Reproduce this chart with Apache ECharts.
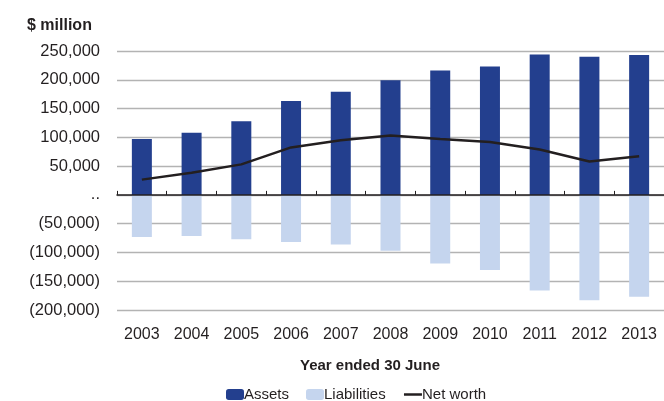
<!DOCTYPE html>
<html>
<head>
<meta charset="utf-8">
<script src="https://cdn.jsdelivr.net/npm/echarts@6/dist/echarts.min.js"></script>
<style>
  html, body { margin: 0; padding: 0; background: #fff; }
  #chart { width: 664px; height: 401px; }
</style>
</head>
<body>
<div id="chart"></div>
<script>
// 年份（横坐标）
const years = ['2003', '2004', '2005', '2006', '2007', '2008', '2009', '2010', '2011', '2012', '2013'];
// 资产
const assets = [97000, 108000, 128000, 163000, 179000, 199000, 216000, 223000, 244000, 240000, 243000];
// 负债
const liabilities = [-73000, -71500, -77000, -82000, -86000, -97000, -119000, -130500, -166000, -183000, -177000];
// 净值
const netWorth = [26500, 38500, 53000, 82500, 95000, 103000, 97000, 92000, 79000, 58000, 67000];

const textColor = '#231f20';
const fontFamily = '"Liberation Sans", Arial, sans-serif';

const chart = echarts.init(document.getElementById('chart'));

// 负数用括号，0 显示为 ..
function fmtY(v) {
  if (v === 0) return '..';
  const s = Math.abs(v).toLocaleString('en-US');
  return v < 0 ? '(' + s + ')' : s;
}

const option = {
  animation: false,
  textStyle: { fontFamily: fontFamily, color: textColor },
  title: [
    {
      text: '$ million',
      left: 22,
      top: 13,
      textStyle: { fontSize: 16, fontWeight: 'bold', color: textColor, fontFamily: fontFamily },
    },
    {
      text: 'Year ended 30 June',
      left: 365,
      top: 353,
      textAlign: 'center',
      textStyle: { fontSize: 15, fontWeight: 'bold', color: textColor, fontFamily: fontFamily },
    },
  ],
  legend: {
    left: 221,
    top: 382,
    itemWidth: 18,
    itemHeight: 11,
    itemGap: 17,
    textStyle: { fontSize: 15, color: textColor, fontFamily: fontFamily, padding: [0, 0, 0, -5] },
    data: [
      'Assets',
      'Liabilities',
      // 折线图例只显示线，不显示圆点
      { name: 'Net worth', itemStyle: { opacity: 0 }, lineStyle: { width: 2.5, color: textColor } },
    ],
  },
  grid: { // 四边距离
    left: 117,
    right: -6,
    top: 51,
    bottom: 91,
  },
  xAxis: [
    {
      type: 'category',
      data: years,
      position: 'bottom',
      axisLine: { onZero: true, lineStyle: { color: textColor, width: 1.5 } },
      axisTick: { show: true, inside: true, length: 4, lineStyle: { color: textColor } },
      axisLabel: { show: false },
      z: 10,
    },
    {
      type: 'category',
      data: years,
      position: 'bottom',
      axisLine: { show: false, onZero: false },
      axisTick: { show: false },
      axisLabel: { show: true, fontSize: 16, color: textColor, margin: 17 },
    },
  ],
  yAxis: {
    type: 'value',
    min: -200000,
    max: 250000,
    interval: 50000,
    axisLine: { show: false },
    axisTick: { show: false },
    axisLabel: { fontSize: 16.5, color: textColor, margin: 17, formatter: fmtY },
    splitLine: { lineStyle: { color: '#b3b3b3', width: 1.3 } },
  },
  series: [
    {
      name: 'Assets',
      type: 'bar',
      data: assets,
      barWidth: 20,
      barGap: '-100%',
      itemStyle: { color: '#233f8e' },
    },
    {
      name: 'Liabilities',
      type: 'bar',
      data: liabilities,
      barWidth: 20,
      itemStyle: { color: '#c5d5ee' },
    },
    {
      name: 'Net worth',
      type: 'line',
      data: netWorth,
      symbol: 'none',
      lineStyle: { color: textColor, width: 2.5 },
      itemStyle: { color: textColor },
      z: 5,
    },
  ],
};

chart.setOption(option);
window.onresize = chart.resize;
</script>
</body>
</html>
